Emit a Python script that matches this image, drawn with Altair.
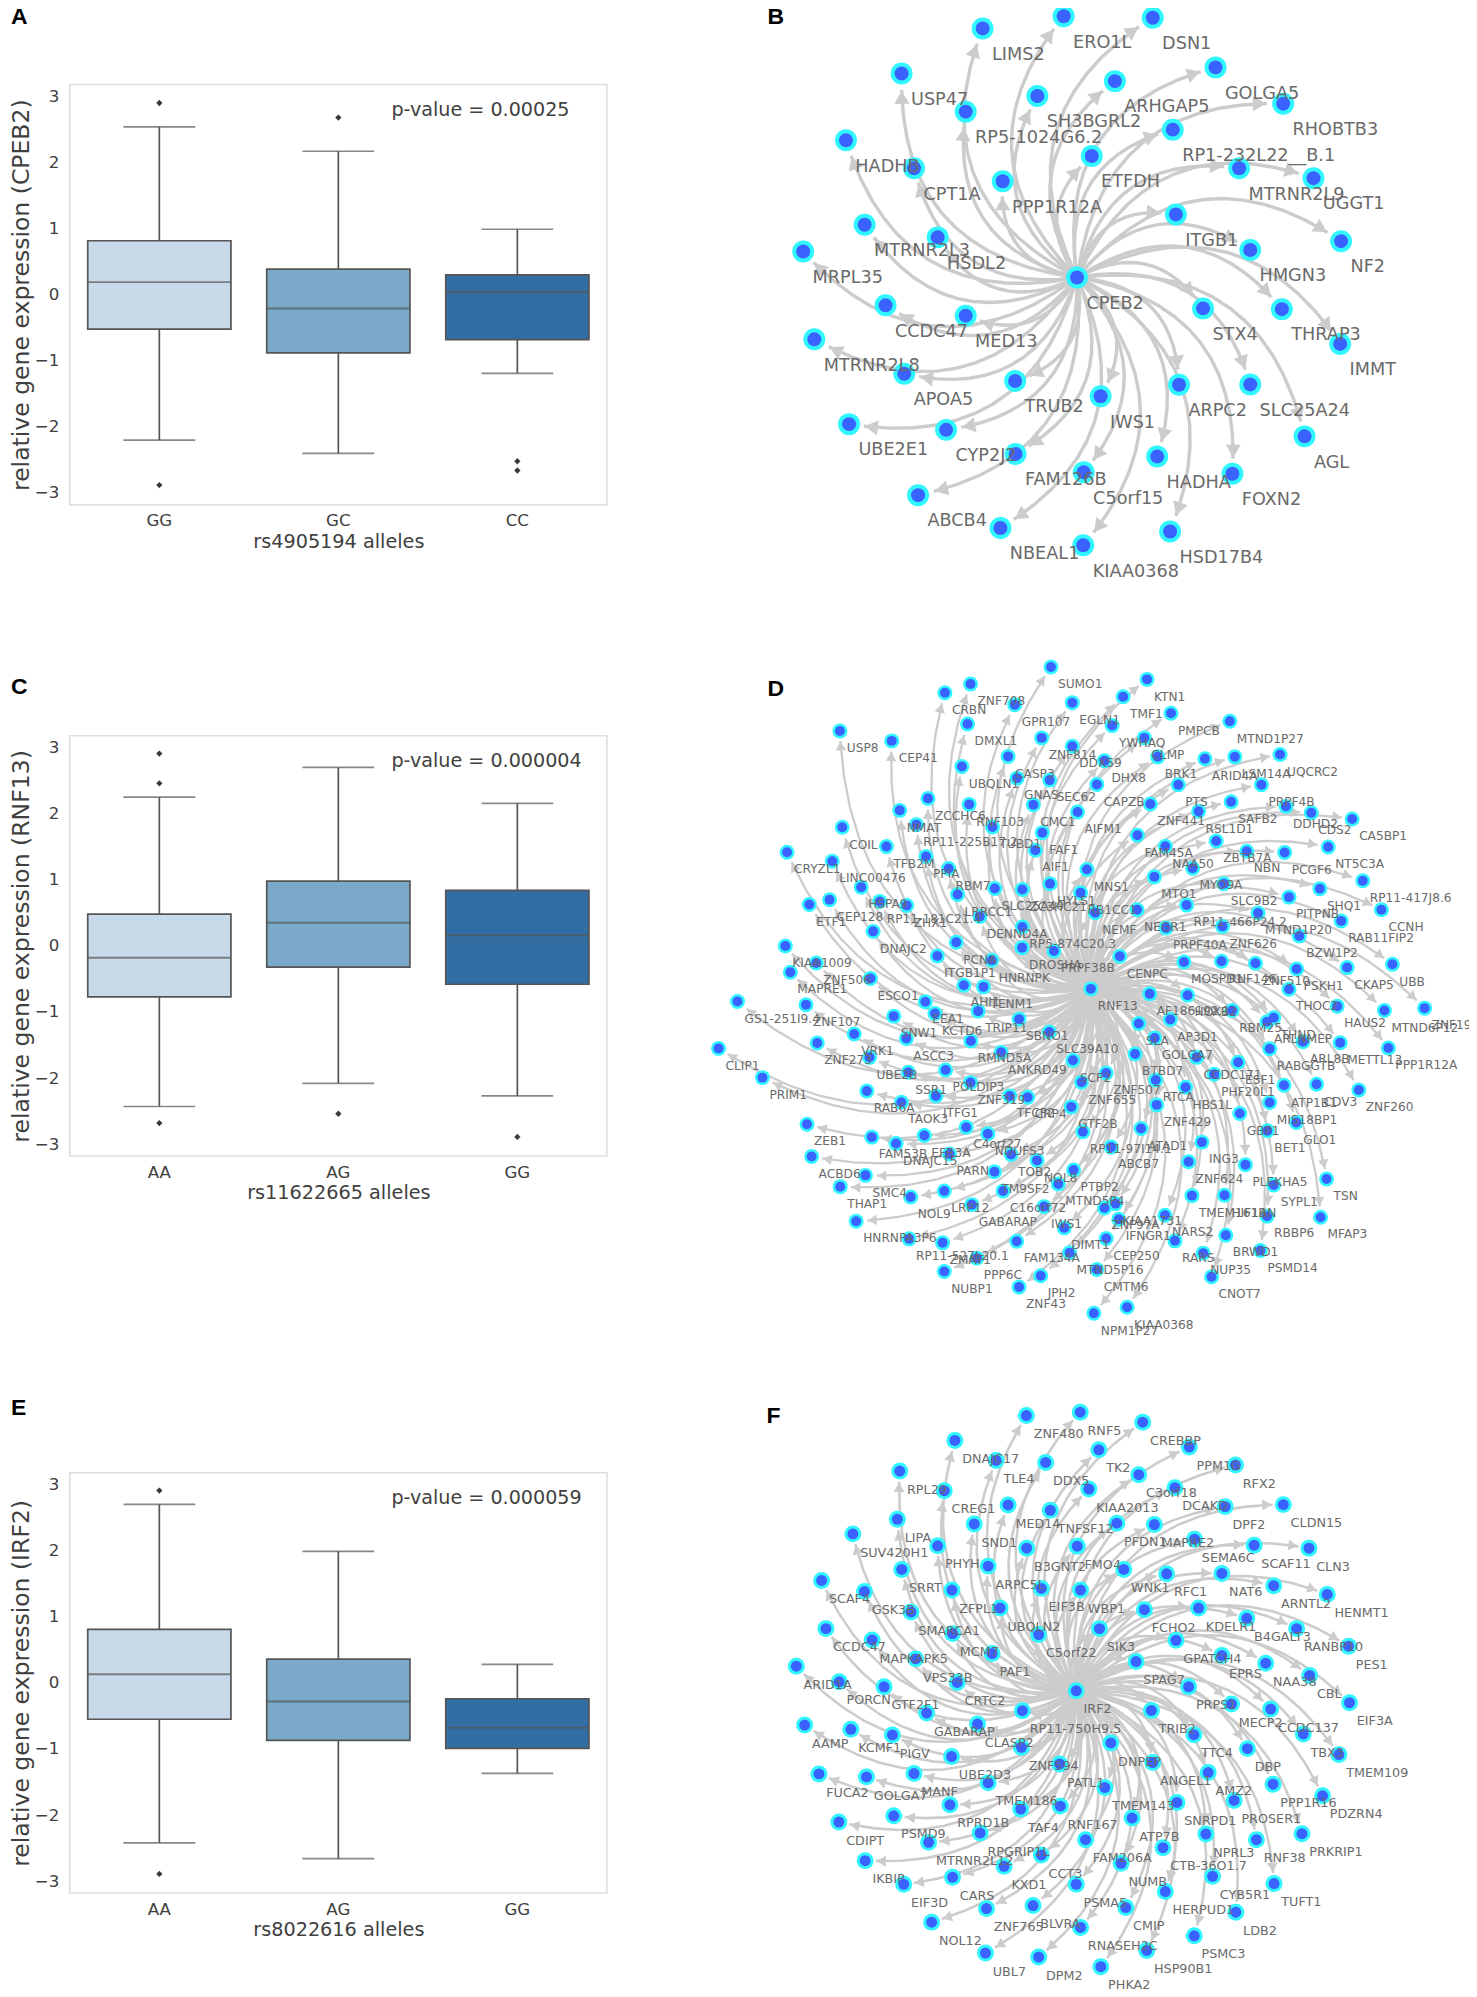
import math
import numpy as np
import pandas as pd
import altair as alt

alt.data_transformers.disable_max_rows()

# ---------- box plot readings ----------
PANEL_A = dict(alleles=["GG", "GC", "CC"], q1=[-0.52, -0.88, -0.68], med=[0.19, -0.21, 0.04], q3=[0.816, 0.386, 0.30],
               lo=[-2.20, -2.40, -1.19], hi=[2.54, 2.17, 0.99], fliers=[[2.90, -2.88], [2.68], [-2.52, -2.66]],
               gene="CPEB2", snp="rs4905194", p="p-value = 0.00025", letter="A")
PANEL_C = dict(alleles=["AA", "AG", "GG"], q1=[-0.77, -0.32, -0.58], med=[-0.18, 0.35, 0.16], q3=[0.48, 0.98, 0.84],
               lo=[-2.43, -2.08, -2.27], hi=[2.25, 2.70, 2.155], fliers=[[2.91, 2.46, -2.68], [-2.54], [-2.89]],
               gene="RNF13", snp="rs11622665", p="p-value = 0.000004", letter="C")
PANEL_E = dict(alleles=["AA", "AG", "GG"], q1=[-0.55, -0.87, -0.99], med=[0.13, -0.28, -0.68], q3=[0.81, 0.36, -0.24],
               lo=[-2.42, -2.66, -1.37], hi=[2.70, 1.99, 0.28], fliers=[[2.91, -2.89], [], []],
               gene="IRF2", snp="rs8022616", p="p-value = 0.000059", letter="E")
BOX_COLORS = ["#c8d9ea", "#7aa9c9", "#326ea3"]

# ---------- network readings: (label, x, y) ----------
B_NODES = [("CPEB2",711,731),("LIMS2",499,79),("ERO1L",681,47),("DSN1",881,51),("USP47",317,197),("GOLGA5",1022,181),
("RHOBTB3",1174,276),("ARHGAP5",796,217),("SH3BGRL2",622,256),("RP5-1024G6.2",461,297),("HADHB",192,372),("CPT1A",345,445),
("PPP1R12A",544,479),("ETFDH",744,413),("RP1-232L22__B.1",926,344),("MTRNR2L9",1075,445),("UGGT1",1242,471),("ITGB1",933,566),
("NF2",1304,636),("HMGN3",1100,659),("STX4",994,812),("THRAP3",1171,814),("IMMT",1302,905),("ARPC2",940,1012),
("SLC25A24",1100,1011),("AGL",1222,1147),("HADHA",891,1200),("FOXN2",1060,1245),("HSD17B4",920,1396),("KIAA0368",725,1432),
("C5orf15",726,1241),("IWS1",764,1042),("FAM126B",573,1193),("TRUB2",572,1002),("CYP2J2",417,1130),("APOA5",323,983),
("MTRNR2L8",121,893),("UBE2E1",199,1115),("ABCB4",354,1301),("NBEAL1",539,1387),("MED13",461,831),("CCDC47",281,804),
("MRPL35",96,663),("MTRNR2L3",234,593),("HSDL2",398,626)]

D_TL = [("RNF13",1174,1021),("SUMO1",1054,53),("ZNF708",812,104),("CRBN",735,130),("GPR107",945,166),("EGLN1",1118,160),("USP8",419,245),
("CEP41",575,275),("DMXL1",803,224),("ZNF814",1026,266),("DDX59",1118,291),("CASP3",925,322),("UBQLN1",786,352),("GNAS",952,387),
("SEC62",1050,393),("CAPZB",1192,406),("ZCCHC6",684,448),("NMAT",599,484),("RNF103",808,466),("CMC1",1001,467),("AIFM1",1134,489),
("RP11-225B17.2",649,527),("TUBD1",878,534),("COIL",426,535),("TFB2M",559,593),("FAF1",1028,551),("AIF1",1007,604),("CRYZL1",260,610),
("PPIA",678,623),("LINC00476",396,637),("RBM7",746,659),("MNS1",1162,662),("HSPA9",483,715),("SLC25A40",885,719),("ZC3HC21",968,722),
("HYLS1",1051,705),("RB1CC1",1143,732),("CEP128",388,753),("ETF1",327,767),("RP11-181C21.4",539,758),("ZHX1",620,770),("LRRCC1",773,737),
("DENND4A",840,803),("NEMF",1187,792),("RP5-874C20.3",968,835),("DNAJC2",519,848),("PCNA",769,881),("ITGB1P1",712,922),("DROSHA",967,897),
("PRPF38B",1063,907),("HNRNPK",876,935),("KIAA1009",255,892),("ZNF506",348,943),("MAPRE1",270,971),("ESCO1",511,990),("AHI1",792,1010),
("TENM1",851,1015)]
D_TR = [("KTN1",203,90),("TMF1",131,142),("PMPCB",275,192),("YWHAQ",98,229),("MTND1P27",452,216),("CLMP",195,266),("BRK1",235,323),
("DHX8",75,335),("ARID4A",377,329),("LSM14A",467,323),("UQCRC2",603,316),("PTS",297,407),("PRPF4B",547,407),("SAFB2",456,458),
("ZNF441",213,465),("RSL1D1",358,487),("DDHD2",621,472),("CDS2",697,491),("CA5BP1",820,510),("FAM45A",174,559),("NAA50",258,592),
("ZBTB7A",411,576),("NBN",503,607),("PCGF6",617,611),("NT5C3A",748,594),("MYO9A",340,658),("MTO1",225,684),("SLC9B2",434,705),
("SHQ1",723,720),("PITPNB",630,745),("RP11-417J8.6",852,696),("NEGR1",173,783),("RP11-466P24.2",322,769),("MTND1P20",537,793),
("RAB11FIP2",787,817),("CCNH",908,783),("PRPF40A",260,838),("ZNF626",430,833),("BZW1P2",661,862),("CENPC",121,923),("MOSPD1",314,940),
("RNF146",427,938),("ZNF510",529,944),("PSKH1",653,961),("CKAP5",805,957),("UBB",941,947),("THOC2",630,1022),("AF186192.1",211,1036),
("HOXB2",325,1040)]
D_BL = [("GS1-251I9.4",111,39),("ZNF107",317,49),("EEA1",676,40),("SNW1",581,83),("KCTD6",705,75),("TRIP11",835,68),("SBNO1",958,92),
("VRK1",462,137),("ZNF273",351,164),("ASCC3",619,150),("RMND5A",813,158),("ANKRD49",904,192),("SLC39A10",1049,131),("UBE2B",508,207),
("POLDIP3",737,245),("SSR1",625,252),("SCP2",1120,216),("ZNF319",812,283),("ZNF655",1146,282),("CLIP1",54,180),("PRIM1",186,268),
("RAB6A",500,308),("ITFG1",708,323),("TAOK3",604,342),("TFCP2",930,323),("CRP4",984,327),("GTF2B",1115,356),("C4orf27",799,417),
("NDUFS3",864,437),("ZEB1",320,408),("FAM53B",515,447),("EFR3A",673,442),("DNAJC15",588,466),("PARN",749,498),("TOB2",934,499),
("NOL8",1012,517),("RP11-97I14.1",1150,431),("ACBD6",334,505),("SMC4",496,562),("THAP1",420,596),("TM9SF2",884,551),("NOL9",632,627),
("LRP12",733,609),("C16orf72",910,609),("PTBP2",1122,546),("MTND5P4",1076,588),("GABARAP",816,650),("IWS1",1033,656),
("HNRNPA3P6",468,700),("DIMT1",1094,720),("RP11-527L20.1",627,753),("ZMAT1",728,765),("FAM134A",951,760),("MTND5P16",1110,795),
("PPP6C",831,811),("NUBP1",733,851),("JPH2",1023,864),("ZNF43",958,898)]
D_BR = [("SLA",178,105),("AP3D1",273,93),("RBM25",459,66),("THND",584,88),("ARLNMEP",564,100),("ARL8B",672,160),("METTL13",784,163),
("HAUS2",775,53),("MTND6P12",917,66),("ZNF197",1038,59),("PPP1R12A",929,179),("ZNF260",840,305),("CDV3",713,288),("ATP1B1",615,291),
("RABGGTB",572,181),("ESF1",477,222),("GOLGA7",226,149),("CCDC171",352,207),("PHF20L1",405,258),("RTCA",229,275),("BTBD7",167,197),
("HBS1L",319,297),("MIS18BP1",572,343),("GLO1",652,403),("GBP1",482,376),("BET1",565,428),("ZNF429",232,350),("ATAD1",185,421),
("ING3",368,462),("ABCB7",95,477),("ZNF624",328,521),("PLEKHA5",499,530),("TSN",743,573),("SYPL1",584,591),("HIF1AN",436,622),
("TMEM161B",338,623),("MFAP3",725,688),("RBBP6",564,685),("NARS2",257,682),("KIAA1731",108,647),("ZNF97A",75,660),("IFNGR1",118,694),
("BRWD1",440,742),("CEP250",80,752),("RARS",287,759),("NUP35",372,796),("PSMD14",544,788),("CMTM6",52,845),("CNOT7",397,867),
("KIAA0368",143,959),("NPM1P27",43,977),("ZNF507",80,254)]

F_TL = [("IRF2",950,905),("ZNF480",800,77),("RNF5",962,67),("DNAJC17",585,152),("TLE4",709,212),("DDX5",858,218),("TK2",1018,180),("RPL29",419,244),
("CREG1",553,303),("KIAA2013",988,298),("LIPA",412,389),("MED14",745,346),("TNFSF12",872,362),("SND1",643,403),("SUV420H1",278,433),
("PHYH",533,469),("B3GNT2",801,476),("FMO4",953,470),("SRRT",425,540),("ARPC5L",685,530),("SCAF4",184,573),("ZFPL1",576,602),
("EIF3B",845,597),("WBP1",963,602),("GSK3B",313,606),("SMARCA1",453,668),("UBQLN2",721,656),("CCDC47",197,718),("MCM7",578,733),
("C5orf22",837,736),("SIK3",1020,718),("MAPKAPK5",336,752),("PAF1",697,793),("VPS33B",467,809),("ARID1A",108,831),("PORCN",237,878),
("GTF2F1",372,893),("CRTC2",592,880)]
F_TR = [("CREBBP",160,97),("PPM1G",300,172),("C3orf18",148,255),("RFX2",439,226),("DCAKD",257,294),("CLDN15",583,345),("DPF2",408,351),
("PFDN1",82,401),("MAPRE2",195,405),("SEMA6C",316,449),("SCAF11",495,467),("CLN3",660,476),("NAT6",398,552),("RFC1",232,553),
("WNK1",103,540),("ARNTL2",554,589),("HENMT1",715,615),("FCHO2",165,661),("KDELR1",328,656),("B4GALT3",473,687),("RANBP10",623,718),
("PES1",779,771),("GPATCH4",260,753),("EPRS",398,799),("NAA38",530,822),("CBL",662,859),("SPAG7",140,817),("PRPS1",298,893)]
F_BL = [("RP11-750H9.5",788,65),("GABARAP",500,72),("CLASP2",653,105),("AAMP",133,108),("KCMF1",272,121),("PIGV",397,138),("ZNF594",785,175),
("UBE2D3",575,203),("PATL1",900,225),("MANF",462,254),("FUCA2",176,255),("GOLGA7",319,264),("TMEM186",685,282),("RPRD1B",570,348),
("PSMD9",401,381),("TAF4",783,361),("RNF167",902,352),("CDIPT",236,400),("RPGRIP1L",661,433),("MTRNR2L12",506,461),("FAM206A",978,453),
("IKBIP",315,516),("CCT3",845,499),("KXD1",733,533),("CARS",578,566),("EIF3D",431,587),("PSMA5",950,587),("ZNF765",680,660),
("BLVRA",820,651),("NOL12",515,701),("RNASEH2C",963,717),("UBL7",677,794),("DPM2",837,806)]
F_BR = [("MECP2",427,45),("CCDC137",545,60),("EIF3A",782,41),("TBX3",643,135),("TMEM109",750,197),("TRIB2",186,64),("TTC4",314,137),
("DBP",475,179),("DNPEP",64,162),("ANGEL1",190,221),("AMZ2",357,251),("PPP1R16",552,286),("PDZRN4",701,321),("PROSER1",435,335),
("SNRPD1",263,341),("TMEM143",46,296),("ATP7B",128,388),("NPRL3",350,436),("RNF38",502,453),("PRKRIP1",639,435),("CTB-36O1.7",221,477),
("NUMB",95,524),("CYB5R1",370,563),("TUFT1",555,585),("HERPUD1",228,609),("CMIP",109,657),("LDB2",440,671),("PSMC3",315,742),
("HSP90B1",172,786),("PHKA2",34,835)]

EDGE = "#cccccc"
CYAN = "#2ff6ff"
BLUE = "#3a62ff"
LABEL = "#6a6a6a"
BOX_LINE = "#555555"
TEXT = "#404040"
FONT = "DejaVu Sans"
LEFT_W = 538.5
BOX_H = 421.5
RIGHT_X = (700, 1460)


def page(items, ox, oy, sx=1 / 3, sy=1 / 3):
    return [(n, ox + x * sx, oy + y * sy) for n, x, y in items]


def box_panel(p, letter_y):
    stats = pd.DataFrame({"a": p["alleles"], "q1": p["q1"], "med": p["med"], "q3": p["q3"],
                          "lo": p["lo"], "hi": p["hi"], "fill": BOX_COLORS})
    fl = pd.DataFrame([{"a": a, "v": v} for a, vs in zip(p["alleles"], p["fliers"]) for v in vs])
    xaxis = alt.Axis(labelAngle=0, domain=False, ticks=False, grid=False, labelFontSize=16.7, labelColor=TEXT,
                     labelPadding=8, titleFontSize=19.3, titleColor=TEXT, titleFontWeight="normal",
                     titlePadding=3, labelFont=FONT, titleFont=FONT)
    yaxis = alt.Axis(values=[-3, -2, -1, 0, 1, 2, 3], format="d", domain=False, ticks=False, grid=False,
                     labelFontSize=16.7, labelColor=TEXT, labelPadding=11, titleFontSize=23.6, titleColor=TEXT,
                     titleFontWeight="normal", titlePadding=1, labelFont=FONT, titleFont=FONT)
    xscale = alt.Scale(domain=p["alleles"], paddingInner=0.2, paddingOuter=0.1)
    yscale = alt.Scale(domain=[-3.18, 3.18], nice=False, zero=False)
    xt = f'{p["snp"]} alleles'
    yt = f'relative gene expression ({p["gene"]})'

    def X():
        return alt.X("a:N", sort=p["alleles"], scale=xscale, title=xt, axis=xaxis)

    def Y(field):
        return alt.Y(f"{field}:Q", scale=yscale, title=yt, axis=yaxis)

    base = alt.Chart(stats)
    whisk_lo = base.mark_rule(color=BOX_LINE, strokeWidth=1.7).encode(x=X(), y=Y("lo"), y2="q1:Q")
    whisk_hi = base.mark_rule(color=BOX_LINE, strokeWidth=1.7).encode(x=X(), y=Y("q3"), y2="hi:Q")
    cap_lo = base.mark_tick(color=BOX_LINE, size=72, thickness=1.7).encode(x=X(), y=Y("lo"))
    cap_hi = base.mark_tick(color=BOX_LINE, size=72, thickness=1.7).encode(x=X(), y=Y("hi"))
    bars = base.mark_bar(stroke=BOX_LINE, strokeWidth=1.7).encode(
        x=X(), y=Y("q1"), y2="q3:Q", fill=alt.Fill("fill:N", scale=None))
    med = base.mark_tick(color=BOX_LINE, size=143.6, thickness=2).encode(x=X(), y=Y("med"))
    layers = [whisk_lo, whisk_hi, cap_lo, cap_hi, bars, med]
    if len(fl):
        layers.append(alt.Chart(fl).mark_point(shape="diamond", filled=True, color="#3a3a3a", size=40, opacity=1).encode(
            x=X(), y=Y("v")))
    one = pd.DataFrame({"t": [p["p"]]})
    layers.append(alt.Chart(one).mark_text(align="left", baseline="middle", fontSize=19.2, font=FONT, color=TEXT).encode(
        x=alt.value(322.5), y=alt.value(25.5), text="t:N"))
    let = pd.DataFrame({"t": [p["letter"]]})
    layers.append(alt.Chart(let).mark_text(align="left", baseline="alphabetic", fontSize=23, fontWeight="bold",
                                           font="Liberation Sans", color="black").encode(
        x=alt.value(-59), y=alt.value(letter_y), text="t:N"))
    return alt.layer(*layers).properties(width=LEFT_W, height=BOX_H,
                                         view=alt.ViewBackground(stroke="#dedede", strokeWidth=1.6))


def net_panel(nodes, ydom, letter, lx, ly, rad, gap, alen, asize, ew, outer, inner, fs, dx, dy):
    x0, x1 = RIGHT_X
    cname, cx, cy = nodes[0]
    lines, arrows = [], []
    ts = np.linspace(0, 1, 240)
    for i, (n, tx, ty) in enumerate(nodes[1:]):
        vx, vy = tx - cx, ty - cy
        qx, qy = (cx + tx) / 2 + rad * vy, (cy + ty) / 2 - rad * vx
        bx = (1 - ts) ** 2 * cx + 2 * (1 - ts) * ts * qx + ts ** 2 * tx
        by = (1 - ts) ** 2 * cy + 2 * (1 - ts) * ts * qy + ts ** 2 * ty
        d = np.hypot(bx - tx, by - ty)
        k = int(np.nonzero(d >= gap)[0][-1])
        t = ts[k]
        gx = 2 * (1 - t) * (qx - cx) + 2 * t * (tx - qx)
        gy = 2 * (1 - t) * (qy - cy) + 2 * t * (ty - qy)
        g = math.hypot(gx, gy)
        gx, gy = gx / g, gy / g
        arrows.append({"x": bx[k] - gx * alen / 2, "y": by[k] - gy * alen / 2,
                       "ang": (math.degrees(math.atan2(gx, -gy))) % 360})
        for j in np.linspace(0, k, 14).astype(int):
            lines.append({"e": i, "o": int(j), "x": bx[j], "y": by[j]})
    sx = alt.Scale(domain=[x0, x1], nice=False, zero=False)
    sy = alt.Scale(domain=[ydom[1], ydom[0]], nice=False, zero=False)
    X = alt.X("x:Q", scale=sx, axis=None)
    Y = alt.Y("y:Q", scale=sy, axis=None)
    nd = pd.DataFrame(nodes, columns=["name", "x", "y"])
    edges = alt.Chart(pd.DataFrame(lines)).mark_line(color=EDGE, strokeWidth=ew, clip=False).encode(
        x=X, y=Y, detail="e:N", order="o:Q")
    heads = alt.Chart(pd.DataFrame(arrows)).mark_point(shape="triangle-up", filled=True, color=EDGE, size=asize, opacity=1).encode(
        x=X, y=Y, angle=alt.Angle("ang:Q", scale=None))
    out = alt.Chart(nd).mark_circle(color=CYAN, size=outer, opacity=1).encode(x=X, y=Y)
    inn = alt.Chart(nd).mark_circle(color=BLUE, size=inner, opacity=1).encode(x=X, y=Y)
    txt = alt.Chart(nd).mark_text(align="left", baseline="middle", dx=dx, dy=dy, fontSize=fs, font=FONT, color=LABEL).encode(
        x=X, y=Y, text="name:N")
    let = alt.Chart(pd.DataFrame({"x": [lx], "y": [ly], "t": [letter]})).mark_text(
        align="left", baseline="alphabetic", fontSize=23, fontWeight="bold", font="Liberation Sans", color="black").encode(
        x=X, y=Y, text="t:N")
    return alt.layer(edges, heads, out, inn, txt, let).properties(width=x1 - x0, height=ydom[1] - ydom[0])


def spacer(h):
    return alt.Chart(pd.DataFrame({"a": [0]})).mark_point(opacity=0).encode(x=alt.value(0), y=alt.value(0)).properties(width=1, height=h)


a = box_panel(PANEL_A, -61)
c = box_panel(PANEL_C, -41.7)
e = box_panel(PANEL_E, -58)
left = alt.vconcat(a, spacer(211), c, spacer(297), e, spacing=10, bounds="flush")

b_nodes = page(B_NODES, 760, 0, 0.4465, 0.383)
d_nodes = page(D_TL, 700, 650) + page(D_TR, 1080, 650) + page(D_BL, 700, 990) + page(D_BR, 1080, 990)
f_nodes = page(F_TL, 760, 1390) + page(F_TR, 1090, 1390) + page(F_BL, 760, 1690) + page(F_BR, 1090, 1690)

b = net_panel(b_nodes, (86.5, 640), "B", 767, 25.5, 0.45, 15, 15, 230, 3.4, 484, 196, 17.7, 9.4, 26.4)
d = net_panel(d_nodes, (640, 1370), "D", 767, 697, 0.45, 10, 10, 110, 2.3, 225, 100, 12.2, 7, 17.3)
f = net_panel(f_nodes, (1370, 1990), "F", 766, 1423, 0.45, 10, 11, 120, 2.6, 289, 121, 12.8, 7.3, 18.7)
right = alt.vconcat(b, d, f, spacing=2.5, bounds="flush")

chart = alt.hconcat(left, right, spacing=632.5, bounds="flush").properties(
    padding={"top": -6, "left": 0, "right": -11, "bottom": 0}, background="white").configure_view(strokeWidth=0)

chart.save("out.html", embed_options={"renderer": "svg", "actions": False})
